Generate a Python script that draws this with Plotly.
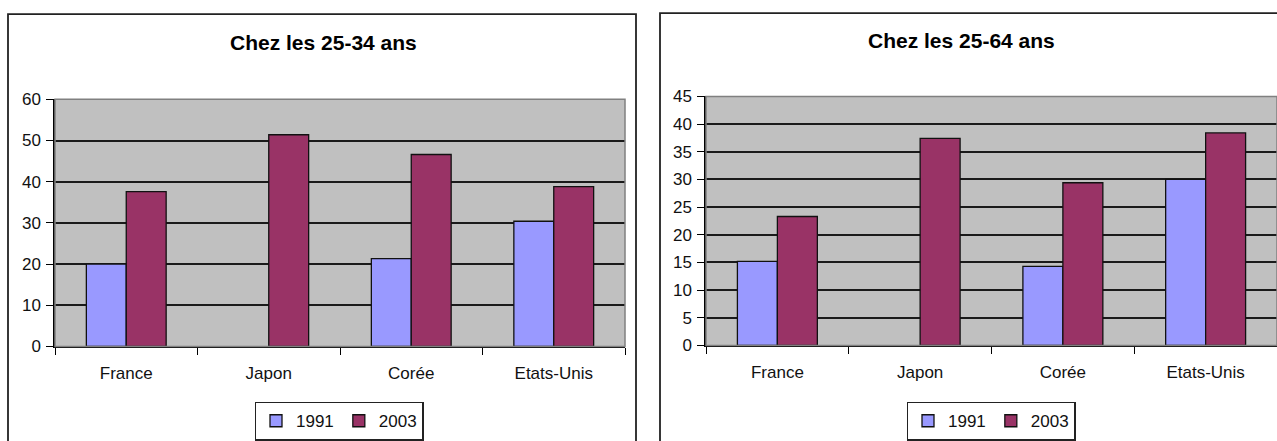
import plotly.graph_objects as go

W, H = 1277, 441

categories = ["France", "Japon", "Corée", "Etats-Unis"]
left_title = "Chez les 25-34 ans"
right_title = "Chez les 25-64 ans"
left_1991 = [20.0, None, 21.3, 30.4]
left_2003 = [37.6, 51.4, 46.6, 38.8]
right_1991 = [15.2, None, 14.3, 30.0]
right_2003 = [23.3, 37.4, 29.4, 38.4]
left_yticks = [0, 10, 20, 30, 40, 50, 60]
right_yticks = [0, 5, 10, 15, 20, 25, 30, 35, 40, 45]

C1991 = "#9999FF"
C2003 = "#993366"
FONT = "Liberation Sans, Arial, sans-serif"
FS = 17

# empirical mapping between figure rows and the photographed rows
YS, YO = 0.95, 7.8


def px(x):
    return x / W


def py(y_photo):
    y_fig = (y_photo - YO) / YS
    return (H - y_fig) / H


fig = go.Figure()
for name, vals, col in [("1991", left_1991, C1991), ("2003", left_2003, C2003)]:
    fig.add_trace(go.Bar(x=categories, y=vals, name=name,
                         marker=dict(color=col, line=dict(color="#111111", width=1.3)),
                         xaxis="x", yaxis="y", legend="legend"))
for name, vals, col in [("1991", right_1991, C1991), ("2003", right_2003, C2003)]:
    fig.add_trace(go.Bar(x=categories, y=vals, name=name,
                         marker=dict(color=col, line=dict(color="#111111", width=1.3)),
                         xaxis="x2", yaxis="y2", legend="legend2"))

xcommon = dict(type="category", tickson="boundaries", ticks="outside", ticklen=7, tickcolor="black",
               showline=True, linecolor="black", linewidth=1.5, showgrid=False, ticklabelstandoff=10,
               tickfont=dict(family=FONT, size=FS, color="#111111"), fixedrange=True)
ycommon = dict(ticks="outside", ticklen=7, tickcolor="black", showline=True, linecolor="black", linewidth=1.5,
               showgrid=True, gridcolor="#1a1a1a", gridwidth=1.5, zeroline=False, ticklabelstandoff=2,
               tickfont=dict(family=FONT, size=FS, color="#111111"), fixedrange=True)

legcommon = dict(orientation="h", xanchor="center", yanchor="top", bgcolor="white", bordercolor="#222222",
                 borderwidth=1.5, font=dict(family=FONT, size=FS, color="#111111"), itemwidth=30,
                 tracegroupgap=0, itemclick=False, itemdoubleclick=False)

fig.update_layout(
    width=W, height=H, margin=dict(l=0, r=0, t=0, b=0),
    paper_bgcolor="white", plot_bgcolor="#C0C0C0",
    barmode="group", bargap=0.44, bargroupgap=0,
    showlegend=True,
    xaxis=dict(xcommon, domain=[px(55), px(625)], anchor="y"),
    yaxis=dict(ycommon, domain=[py(356), py(101)], range=[0, 60], tickvals=left_yticks, anchor="x"),
    xaxis2=dict(xcommon, domain=[px(706), px(1277)], anchor="y2"),
    yaxis2=dict(ycommon, domain=[py(355), py(98)], range=[0, 45], tickvals=right_yticks, anchor="x2"),
    legend=dict(legcommon, x=px(339), y=py(413)),
    legend2=dict(legcommon, x=px(991), y=py(413)),
    annotations=[
        dict(text="<b>" + left_title + "</b>", x=px(323), y=py(42), xref="paper", yref="paper",
             xanchor="center", yanchor="middle", showarrow=False,
             font=dict(family=FONT, size=21, color="black")),
        dict(text="<b>" + right_title + "</b>", x=px(961), y=py(40), xref="paper", yref="paper",
             xanchor="center", yanchor="middle", showarrow=False,
             font=dict(family=FONT, size=21, color="black")),
    ],
    shapes=[
        dict(type="rect", xref="paper", yref="paper", x0=px(8), x1=px(636), y0=-0.1, y1=py(13),
             line=dict(color="#222222", width=1.8), layer="below"),
        dict(type="rect", xref="paper", yref="paper", x0=px(660), x1=1.1, y0=-0.1, y1=py(12),
             line=dict(color="#222222", width=1.8), layer="below"),
        dict(type="rect", xref="x domain", yref="y domain", x0=0, x1=1, y0=0, y1=1,
             line=dict(color="#808080", width=1.5)),
        dict(type="rect", xref="x2 domain", yref="y2 domain", x0=0, x1=1, y0=0, y1=1,
             line=dict(color="#808080", width=1.5)),
    ],
)

post = ("var gd=document.getElementById('{plot_id}');"
        "gd.style.position='fixed';gd.style.left='0px';gd.style.top='0px';"
        "document.body.style.margin='0px';document.body.style.overflow='hidden';")
fig.write_html("out.html", config={"displayModeBar": False}, post_script=post)
